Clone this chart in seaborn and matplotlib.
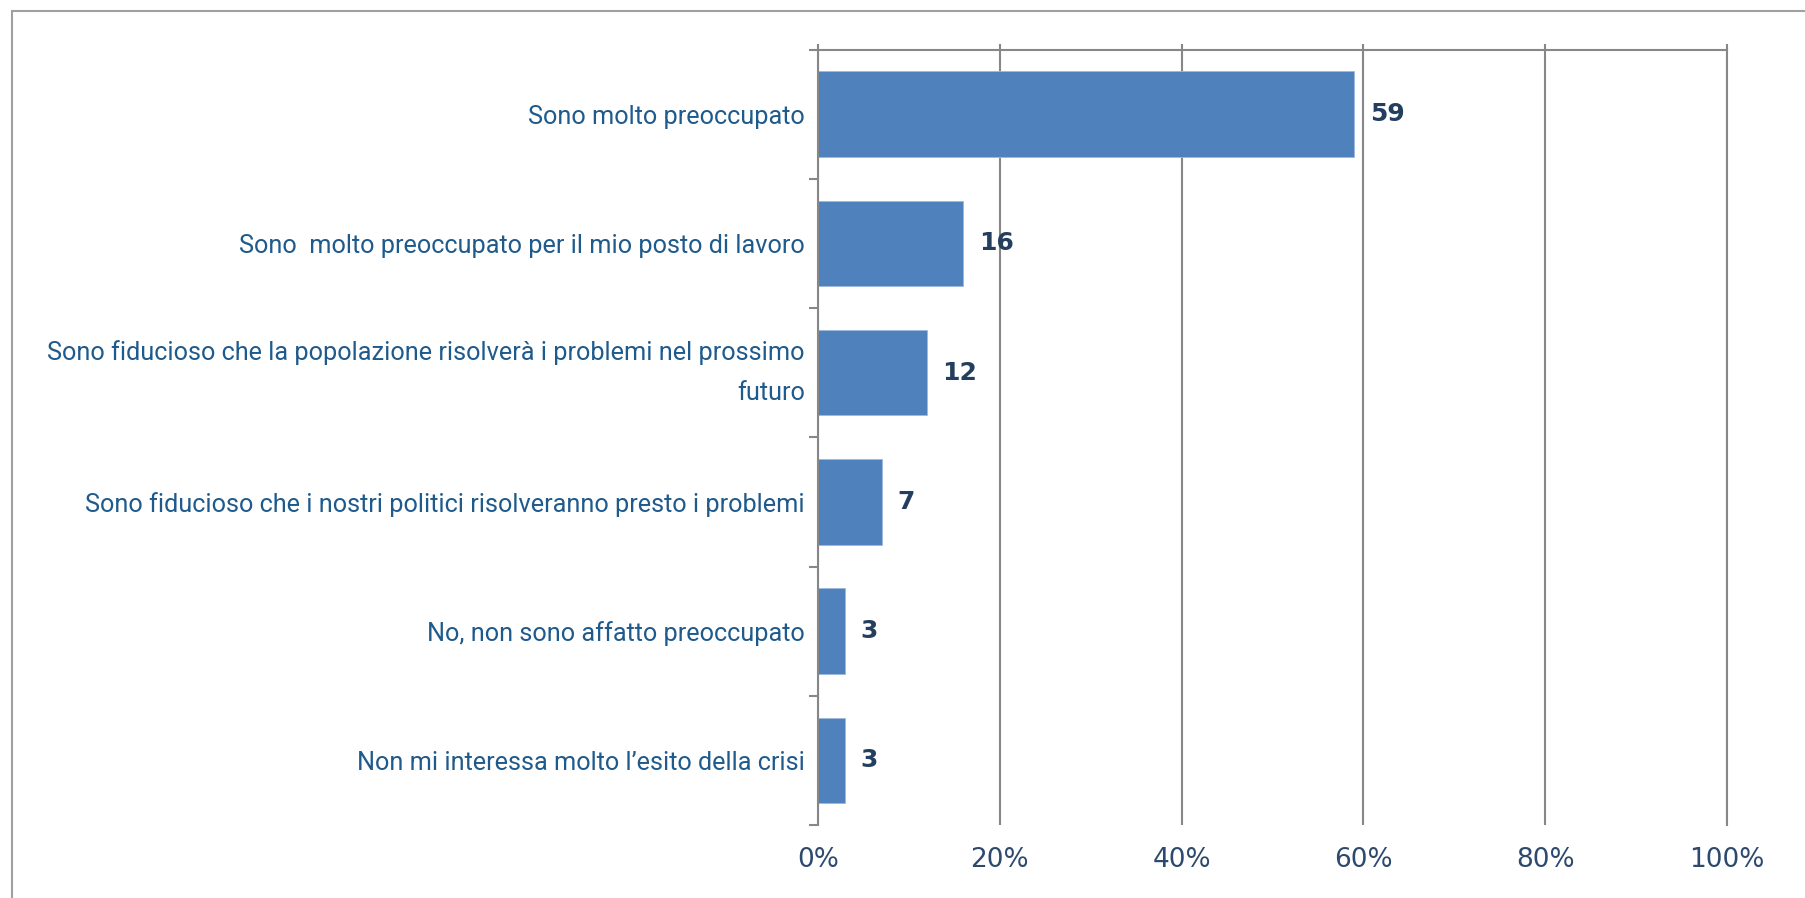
import matplotlib
matplotlib.use('Agg')
import matplotlib.pyplot as plt
import seaborn as sns
import pandas as pd
from matplotlib.patches import Rectangle

# dati
categorie = [
    'Sono molto preoccupato',
    'Sono  molto preoccupato per il mio posto di lavoro',
    'Sono fiducioso che la popolazione risolverà i problemi nel prossimo\nfuturo',
    'Sono fiducioso che i nostri politici risolveranno presto i problemi',
    'No, non sono affatto preoccupato',
    'Non mi interessa molto l\u2019esito della crisi',
]
valori = [59, 16, 12, 7, 3, 3]
tick_x = [0, 20, 40, 60, 80, 100]
tick_label_x = ['0%', '20%', '40%', '60%', '80%', '100%']

sns.set_theme(style='white')
plt.rcParams['font.family'] = ['DejaVu Sans']

GRIGIO = '#878787'
BLU_BARRA = '#4F81BD'

df = pd.DataFrame({'categoria': categorie, 'valore': valori})

fig = plt.figure(figsize=(18.05, 8.98), dpi=100)
ax = fig.add_axes([818 / 1805, 1 - 825 / 898, 909 / 1805, 775.5 / 898])

sns.barplot(data=df, x='valore', y='categoria', color=BLU_BARRA, saturation=1,
            width=0.66, orient='h', ax=ax, edgecolor='#9DB9DC', linewidth=0.6)

ax.set_xlim(0, 100)
ax.set_ylim(len(categorie) - 0.5, -0.5)
ax.set_xlabel('')
ax.set_ylabel('')

# griglia verticale
ax.set_xticks(tick_x)
ax.set_xticklabels(tick_label_x)
ax.grid(axis='x', color=GRIGIO, linewidth=1.5)
ax.grid(axis='y', visible=False)
ax.set_axisbelow(True)

for lato in ['top', 'left', 'right']:
    ax.spines[lato].set_visible(True)
    ax.spines[lato].set_color(GRIGIO)
    ax.spines[lato].set_linewidth(1.5)
ax.spines['bottom'].set_visible(False)

ax.tick_params(axis='x', which='major', top=True, bottom=False, labeltop=False,
               labelbottom=True, length=4, width=1.5, color=GRIGIO, pad=12,
               labelsize=19, labelcolor='#2D4A6E')

# tacche dell'asse y ai confini delle categorie
confini = [i - 0.5 for i in range(len(categorie) + 1)]
ax.set_yticks(confini, minor=True)
ax.tick_params(axis='y', which='minor', left=True, length=6.5, width=1.5,
               color=GRIGIO)
ax.tick_params(axis='y', which='major', left=False, length=0, pad=9.5)
for lab in ax.get_yticklabels():
    lab.set_fontfamily(['Roboto', 'DejaVu Sans'])
    lab.set_fontweight('normal')
    lab.set_fontsize(18.2)
    lab.set_color('#1F5A8C')
    lab.set_linespacing(1.8)
    lab.set_horizontalalignment('right')
    lab.set_multialignment('right')
    if '\n' in lab.get_text():
        lab.set_verticalalignment('center')

# etichette dei valori
ax.bar_label(ax.containers[0], labels=[str(v) for v in valori], padding=11,
             fontsize=18, fontweight='bold', color='#233E5E')

# cornice esterna
fig.patches.append(Rectangle((12 / 1805, -0.1), 1.2, 1.1 - 11 / 898,
                             transform=fig.transFigure, fill=False,
                             edgecolor='#A0A0A0', linewidth=1.5))

fig.savefig('out.png', dpi=100)
